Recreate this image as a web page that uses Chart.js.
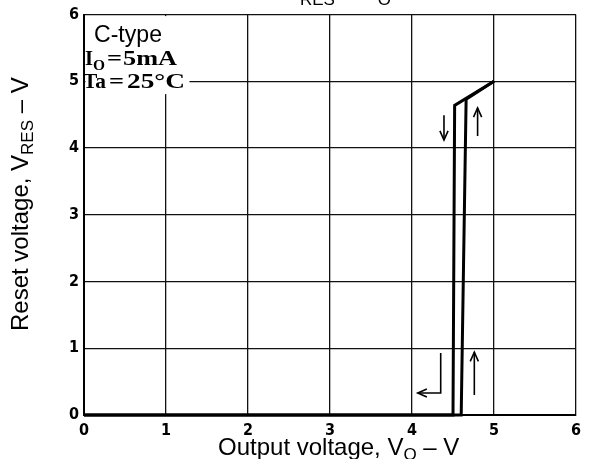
<!DOCTYPE html>
<html><head><meta charset="utf-8">
<script src="https://cdn.jsdelivr.net/npm/chart.js@4/dist/chart.umd.min.js"></script>
<style>html,body{margin:0;padding:0;background:#fff;}#wrap{width:590px;height:459px;}</style>
</head><body><div id="wrap"><canvas id="c" width="590" height="459"></canvas></div>
<script>
// ---- data ----
const xTicks = [0, 1, 2, 3, 4, 5, 6];
const yTicks = [0, 1, 2, 3, 4, 5, 6];
// rising V_O sweep
const riseX = [0, 4.60, 4.66, 5.00];
const riseY = [0, 0, 4.73, 5.00];
// falling V_O sweep
const fallX = [5.00, 4.52, 4.50, 0];
const fallY = [5.00, 4.64, 0, 0];
// direction arrows (data coordinates)
const arrowDownX = [4.39, 4.39];
const arrowDownY = [4.49, 4.12];
const arrowUpX = [4.80, 4.80];
const arrowUpY = [4.18, 4.60];
const arrowLowUpX = [4.76, 4.76];
const arrowLowUpY = [0.30, 0.94];
const arrowReturnX = [4.35, 4.35, 4.07];
const arrowReturnY = [0.93, 0.33, 0.33];

const pts = (xs, ys) => xs.map((x, i) => ({x: x, y: ys[i]}));
const SANS = '"Liberation Sans", Arial, Helvetica, sans-serif';
const SERIF = '"Liberation Serif", "Times New Roman", serif';
const TICKFONT = '"DejaVu Sans Condensed", "DejaVu Sans", sans-serif';

function curve(xs, ys) {
  return {data: pts(xs, ys), showLine: true, borderColor: '#000', borderWidth: 3,
    pointRadius: 0, tension: 0, clip: false, borderJoinStyle: 'miter'};
}
function arrow(xs, ys) {
  return {data: pts(xs, ys), showLine: true, borderColor: '#000', borderWidth: 1.6,
    pointRadius: 0, tension: 0, clip: false, arrow: true};
}

const arrowHeads = {
  id: 'arrowHeads',
  afterDatasetsDraw(chart) {
    const ctx = chart.ctx;
    chart.data.datasets.forEach((ds, i) => {
      if (!ds.arrow) return;
      const m = chart.getDatasetMeta(i).data;
      const a = m[m.length - 2], b = m[m.length - 1];
      const ang = Math.atan2(b.y - a.y, b.x - a.x);
      const L = 10, W = 0.42;
      ctx.save();
      ctx.strokeStyle = '#000'; ctx.lineWidth = 1.6;
      ctx.beginPath();
      ctx.moveTo(b.x - L * Math.cos(ang - W), b.y - L * Math.sin(ang - W));
      ctx.lineTo(b.x, b.y);
      ctx.lineTo(b.x - L * Math.cos(ang + W), b.y - L * Math.sin(ang + W));
      ctx.stroke();
      ctx.restore();
    });
  }
};

function fitText(ctx, txt, x, y, font, w) {
  ctx.font = font;
  const nat = ctx.measureText(txt).width;
  ctx.save();
  ctx.translate(x, y);
  ctx.scale(w / nat, 1);
  ctx.fillText(txt, 0, 0);
  ctx.restore();
}

const texts = {
  id: 'texts',
  afterDraw(chart) {
    const ctx = chart.ctx;
    const ca = chart.chartArea;
    ctx.save();
    // white box behind the condition notes
    ctx.fillStyle = '#fff';
    ctx.fillRect(ca.left + 1.5, ca.top + 1.5, 104, 78);
    ctx.fillStyle = '#000';
    ctx.textBaseline = 'alphabetic';
    ctx.textAlign = 'left';
    // notes
    fitText(ctx, 'C-type', 94, 41.5, '23px ' + SANS, 68);
    const sb = 'bold 22px ' + SERIF;
    fitText(ctx, 'I', 85, 64.5, sb, 8);
    fitText(ctx, 'O', 93, 70, 'bold 15px ' + SERIF, 12);
    fitText(ctx, '=', 107, 64.5, sb, 15);
    fitText(ctx, '5mA', 123, 64.5, sb, 54);
    fitText(ctx, 'Ta', 83, 87.5, sb, 23);
    fitText(ctx, '=', 109, 87.5, sb, 15);
    fitText(ctx, '25°C', 127, 87.5, sb, 58);

    // top (cut-off) title: V_RES – V_O
    const big = '24px ' + SANS, sub = '17px ' + SANS;
    function rich(parts, x, y) {
      parts.forEach(p => {
        ctx.font = p[1] ? sub : big;
        ctx.fillText(p[0], x, y + (p[1] ? 5 : 0));
        x += ctx.measureText(p[0]).width;
      });
    }
    rich([['V', 0], ['RES', 1], [' \u2013 V', 0], ['O', 1]], 284, 0);
    // x axis title
    rich([['Output voltage, V', 0], ['O', 1], [' \u2013 V', 0]], 218, 455);
    // y axis title
    ctx.save();
    ctx.translate(28, 331);
    ctx.rotate(-Math.PI / 2);
    rich([['Reset voltage, V', 0], ['RES', 1], [' \u2013 V', 0]], 0, 0);
    ctx.restore();
    ctx.restore();
  }
};

new Chart(document.getElementById('c'), {
  type: 'scatter',
  data: {
    datasets: [
      curve(riseX, riseY),
      curve(fallX, fallY),
      arrow(arrowDownX, arrowDownY),
      arrow(arrowUpX, arrowUpY),
      arrow(arrowLowUpX, arrowLowUpY),
      arrow(arrowReturnX, arrowReturnY)
    ]
  },
  options: {
    responsive: false,
    devicePixelRatio: 1,
    animation: false,
    layout: {padding: {left: 0, right: 14, top: 14, bottom: 0}},
    plugins: {legend: {display: false}, tooltip: {enabled: false}, title: {display: false}},
    scales: {
      x: {
        type: 'linear', min: 0, max: 6,
        afterBuildTicks: s => { s.ticks = xTicks.map(v => ({value: v})); },
        afterFit: s => { s.height = 44; },
        grid: {color: '#111', lineWidth: 1.3, drawTicks: false},
        border: {color: '#000', width: 2},
        ticks: {color: '#000', padding: 6, font: {family: TICKFONT, size: 16, weight: 'bold'}}
      },
      y: {
        type: 'linear', min: 0, max: 6,
        afterBuildTicks: s => { s.ticks = yTicks.map(v => ({value: v})); },
        afterFit: s => { s.width = 84; },
        grid: {color: '#111', lineWidth: 1.3, drawTicks: false},
        border: {color: '#000', width: 2},
        ticks: {color: '#000', padding: 5, font: {family: TICKFONT, size: 16, weight: 'bold'}}
      }
    }
  },
  plugins: [arrowHeads, texts]
});
</script>
</body></html>
